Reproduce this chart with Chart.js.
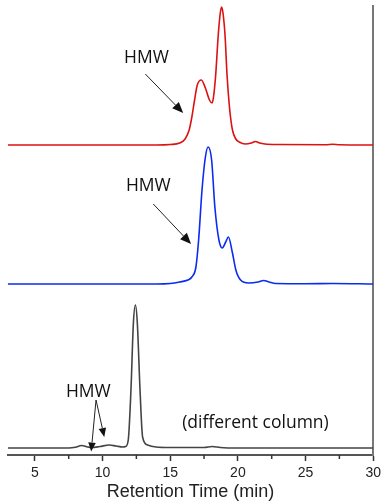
<!DOCTYPE html>
<html>
<head>
<meta charset="utf-8">
<script src="https://cdn.jsdelivr.net/npm/chart.js@4/dist/chart.umd.min.js"></script>
<style>
  html, body { margin: 0; padding: 0; background: #fff; }
  #wrap { width: 385px; height: 504px; }
</style>
</head>
<body>
<div id="wrap"><canvas id="sec-chart" width="385" height="504"></canvas></div>
<script>
// retention time (min) and detector signal
const redTime   = [3, 14, 15, 15.7, 16.1, 16.4, 16.6, 16.8, 17.0, 17.3, 17.6, 17.9, 18.1, 18.2, 18.36, 18.55, 18.7, 18.8, 18.9, 19.05, 19.2, 19.4, 19.6, 19.85, 20.1, 20.55, 21.0, 21.3, 21.6, 22.0, 23, 26.5, 27, 27.5, 30];
const redSignal = [0, 0, 0.5, 2, 6, 15, 28, 45, 60, 65, 57, 45, 42, 48, 70, 110, 132, 138, 132, 110, 70, 35, 15, 6, 3, 1, 2, 3.5, 2, 1, 0.5, 0.3, 0.7, 0.3, 0];

const blueTime   = [3, 14, 15, 15.7, 16.3, 16.6, 16.9, 17.1, 17.35, 17.6, 17.8, 18.06, 18.3, 18.6, 18.85, 19.1, 19.3, 19.6, 19.85, 20.2, 20.8, 21.5, 21.9, 22.3, 22.8, 25, 27, 30];
const blueSignal = [0, 0, 0.5, 2, 4, 7, 17, 44, 94, 127, 137, 124, 77, 44, 36, 42, 47, 31, 14, 4, 1, 2, 3.5, 2, 0.5, 0.3, 0.5, 0];

const grayTime   = [3, 7.5, 8.0, 8.45, 8.9, 9.2, 9.8, 10.5, 11.0, 11.5, 11.7, 11.9, 12.1, 12.28, 12.43, 12.57, 12.77, 12.96, 13.33, 13.95, 15, 17.5, 18.1, 18.7, 20, 30];
const graySignal = [0, 0, 0.8, 2.5, 1, 0.5, 1.5, 3, 2, 1, 1.5, 8, 58, 125, 143, 125, 58, 11, 3, 1, 0.5, 0.5, 1.5, 0.5, 0, 0];

// vertical stacking of the three traces
const redOffset = 310;
const blueOffset = 171;
const grayOffset = 7;

const majorTicks = [5, 10, 15, 20, 25, 30];
const minorTicks = [7.5, 12.5, 17.5, 22.5, 27.5];

// annotations in data units: [time, value]
const labels = [
  { text: 'HMW', at: [13.24, 397] },
  { text: 'HMW', at: [13.38, 269] },
  { text: 'HMW', at: [8.95, 63] },
  { text: '(different column)', at: [21.3, 32] },
];
const arrows = [
  { from: [13.16, 381], to: [15.96, 342], head: 11 },
  { from: [13.75, 251], to: [16.54, 211], head: 11 },
  { from: [9.52, 55], to: [10.13, 18], head: 9 },
  { from: [9.52, 55], to: [9.16, 3.5], head: 9 },
];

function trace(times, values, offset) {
  return times.map((t, i) => ({ x: t, y: values[i] + offset }));
}

function line(label, color, data) {
  return {
    label: label,
    data: data,
    borderColor: color,
    borderWidth: 1.6,
    pointRadius: 0,
    fill: false,
    cubicInterpolationMode: 'monotone',
  };
}

const annotate = {
  id: 'annotate',
  afterDatasetsDraw: chart => {
    const ctx = chart.ctx;
    const xs = chart.scales.x;
    const ys = chart.scales.y;
    const px = p => [xs.getPixelForValue(p[0]), ys.getPixelForValue(p[1])];

    ctx.save();
    ctx.fillStyle = '#111';
    ctx.font = '17.5px "Open Sans"';
    ctx.textAlign = 'center';
    ctx.textBaseline = 'middle';
    labels.forEach(l => {
      const [x, y] = px(l.at);
      ctx.fillText(l.text, x, y);
    });

    arrows.forEach(a => {
      const [x0, y0] = px(a.from);
      const [x1, y1] = px(a.to);
      const ang = Math.atan2(y1 - y0, x1 - x0);
      const head = a.head, half = a.head * 0.42;
      const bx = x1 - head * Math.cos(ang);
      const by = y1 - head * Math.sin(ang);
      ctx.strokeStyle = '#222';
      ctx.lineWidth = 1;
      ctx.beginPath();
      ctx.moveTo(x0, y0);
      ctx.lineTo(bx, by);
      ctx.stroke();
      ctx.beginPath();
      ctx.moveTo(x1, y1);
      ctx.lineTo(bx + half * Math.sin(ang), by - half * Math.cos(ang));
      ctx.lineTo(bx - half * Math.sin(ang), by + half * Math.cos(ang));
      ctx.closePath();
      ctx.fill();
    });

    // short minor ticks under the axis
    ctx.strokeStyle = '#333';
    ctx.lineWidth = 1.5;
    minorTicks.forEach(v => {
      const x = xs.getPixelForValue(v);
      ctx.beginPath();
      ctx.moveTo(x, xs.top);
      ctx.lineTo(x, xs.top + 4);
      ctx.stroke();
    });
    ctx.restore();
  }
};

new Chart(document.getElementById('sec-chart'), {
  type: 'line',
  data: {
    datasets: [
      line('red', '#dd1111', trace(redTime, redSignal, redOffset)),
      line('blue', '#0a2cf0', trace(blueTime, blueSignal, blueOffset)),
      line('gray', '#444444', trace(grayTime, graySignal, grayOffset)),
    ]
  },
  plugins: [annotate],
  options: {
    responsive: false,
    animation: false,
    layout: { padding: { left: 7.8, right: 9.2, top: 6, bottom: 0 } },
    plugins: {
      legend: { display: false },
      tooltip: { enabled: false },
    },
    scales: {
      x: {
        type: 'linear',
        min: 3,
        max: 30,
        afterBuildTicks: scale => {
          scale.ticks = majorTicks.map(v => ({ value: v }));
        },
        afterFit: scale => { scale.height = 49; },
        border: { display: true, color: '#555', width: 2 },
        grid: {
          drawOnChartArea: false,
          drawTicks: true,
          tickLength: 6,
          tickColor: '#333',
          tickWidth: 1.5,
        },
        ticks: {
          padding: 4,
          maxRotation: 0,
          autoSkip: false,
          color: '#222',
          font: { family: '"Liberation Sans", Arial', size: 14 },
        },
        title: {
          display: true,
          text: 'Retention Time (min)',
          color: '#222',
          padding: { top: 0, bottom: 1 },
          font: { family: '"Liberation Sans", Arial', size: 18 },
        },
      },
      y: {
        type: 'linear',
        position: 'right',
        min: 0,
        max: 449,
        afterFit: scale => { scale.width = 0; },
        border: { display: true, color: '#777', width: 2 },
        grid: { display: false },
        ticks: { display: false },
      },
    },
  },
});
</script>
</body>
</html>
